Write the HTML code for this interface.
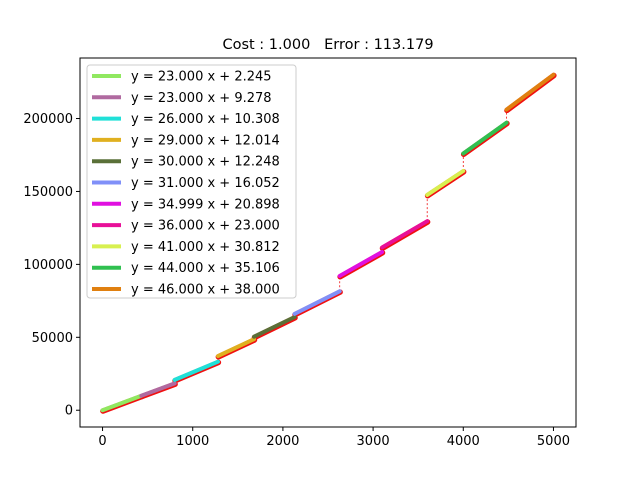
<!DOCTYPE html>
<html><head><meta charset="utf-8"><style>body{margin:0;background:#fff}svg text{font-family:"DejaVu Sans","Liberation Sans",sans-serif}</style></head>
<body>
<svg id="c" width="640" height="480" xmlns="http://www.w3.org/2000/svg"></svg>
<script>
const slopes=[23.000,23.000,26.000,29.000,30.000,31.000,34.999,36.000,41.000,44.000,46.000];
const intercepts=[2.245,9.278,10.308,12.014,12.248,16.052,20.898,23.000,30.812,35.106,38.000];
const starts=[0,430,800,1280,1680,2130,2630,3100,3600,4000,4480];
const ends=[430,800,1280,1680,2130,2630,3100,3600,4000,4480,5000];
const colors=['#90e860','#b06aa0','#20e0d8','#e0b020','#5a7038','#8090f8','#e010e0','#e81098','#d8f050','#30c050','#e08010'];
const xTicks=[0,1000,2000,3000,4000,5000];
const yTicks=[0,50000,100000,150000,200000];
const L=80,R=576,T=58,B=427,xmin=-250,xmax=5250,ymin=-11500,ymax=241500;
const X=v=>L+(v-xmin)/(xmax-xmin)*(R-L);
const Y=v=>B-(v-ymin)/(ymax-ymin)*(B-T);
const s=document.getElementById('c');const NS='http://www.w3.org/2000/svg';
function mk(t,a,p){const e=document.createElementNS(NS,t);for(const k in a)e.setAttribute(k,a[k]);(p||s).appendChild(e);return e;}
let t=mk('text',{x:328,y:49,'text-anchor':'middle','font-size':14.5,'style':'white-space:pre'});t.textContent='Cost : 1.000   Error : 113.179';


for(let i=0;i<slopes.length;i++){
 const f=x=>slopes[i]*x+intercepts[i];
 let l=mk('line',{x1:X(starts[i])+0.4,y1:Y(f(starts[i]))+0.8,x2:X(ends[i])+0.4,y2:Y(f(ends[i]))+0.8,stroke:'#f01010','stroke-width':5.5,'stroke-linecap':'round'});
 
 
 if(i>0){const g=x=>slopes[i-1]*x+intercepts[i-1];
  let d=mk('line',{x1:X(starts[i]),y1:Y(g(starts[i])),x2:X(starts[i]),y2:Y(f(starts[i])),stroke:'#f01010','stroke-width':0.8,'stroke-dasharray':'2,2'});
  
  }
}
for(let i=0;i<slopes.length;i++){
 const f=x=>slopes[i]*x+intercepts[i];
 let l=mk('line',{x1:X(starts[i]),y1:Y(f(starts[i])),x2:X(ends[i]),y2:Y(f(ends[i])),stroke:colors[i],'stroke-width':4,'stroke-linecap':'round'});
 
 
}
let fr=mk('rect',{x:L,y:T,width:R-L,height:B-T,fill:'none',stroke:'#000','stroke-width':1});


xTicks.forEach(v=>{mk('line',{x1:X(v),y1:B,x2:X(v),y2:B+4,stroke:'#000'});let e=mk('text',{x:X(v),y:B+18,'text-anchor':'middle','font-size':13});e.textContent=v;
 
 });
yTicks.forEach(v=>{mk('line',{x1:L-4,y1:Y(v),x2:L,y2:Y(v),stroke:'#000'});let e=mk('text',{x:L-7,y:Y(v)+4.5,'text-anchor':'end','font-size':13});e.textContent=v;
 
 });
let lg=mk('rect',{x:87,y:65,width:209,height:233,rx:3,fill:'#fff','fill-opacity':0.8,stroke:'#ccc'});


for(let i=0;i<slopes.length;i++){const y=76+i*21.3;
 mk('line',{x1:92,y1:y,x2:121,y2:y,stroke:colors[i],'stroke-width':4});
 let e=mk('text',{x:131,y:y+4.5,'font-size':13});
 e.textContent='y = '+slopes[i].toFixed(3)+' x + '+intercepts[i].toFixed(3);
 
 }
</script>
</body></html>
